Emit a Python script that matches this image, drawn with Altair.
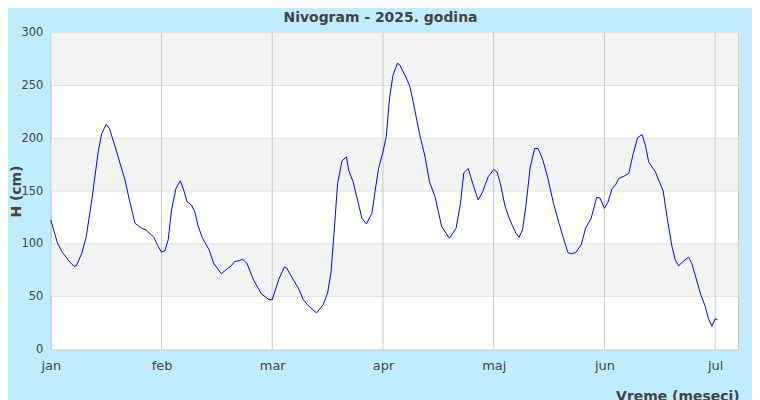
import altair as alt
import pandas as pd

months = ["jan", "feb", "mar", "apr", "maj", "jun", "jul"]
month_pos = [0, 1, 2, 3, 4, 5, 6]
y_ticks = [0, 50, 100, 150, 200, 250, 300]
band_lo = [50, 150, 250]
band_hi = [100, 200, 300]

# time in months since 1 Jan (each month equally wide), snow height in cm
t = [0.00, 0.06, 0.10, 0.16, 0.21, 0.23, 0.28, 0.32, 0.37, 0.43, 0.46, 0.50, 0.53,
     0.59, 0.67, 0.71, 0.76, 0.82, 0.86, 0.93, 0.97, 1.00, 1.03, 1.06, 1.09, 1.13,
     1.17, 1.20, 1.23, 1.27, 1.30, 1.33, 1.37, 1.43, 1.47, 1.54, 1.59, 1.63, 1.66,
     1.70, 1.73, 1.77, 1.83, 1.90, 1.97, 2.00, 2.06, 2.11, 2.13, 2.19, 2.24, 2.28,
     2.33, 2.40, 2.46, 2.50, 2.53, 2.56, 2.59, 2.63, 2.67, 2.69, 2.73, 2.77, 2.81,
     2.85, 2.90, 2.93, 2.96, 3.00, 3.03, 3.06, 3.09, 3.13, 3.15, 3.20, 3.24, 3.27,
     3.30, 3.33, 3.38, 3.42, 3.47, 3.53, 3.57, 3.60, 3.66, 3.70, 3.73, 3.77, 3.81,
     3.86, 3.90, 3.95, 4.00, 4.03, 4.06, 4.10, 4.14, 4.17, 4.20, 4.23, 4.26, 4.29,
     4.33, 4.37, 4.40, 4.44, 4.49, 4.54, 4.59, 4.63, 4.67, 4.70, 4.74, 4.79, 4.83,
     4.88, 4.93, 4.96, 5.00, 5.03, 5.07, 5.10, 5.13, 5.18, 5.22, 5.26, 5.30, 5.34,
     5.37, 5.40, 5.43, 5.46, 5.49, 5.53, 5.57, 5.61, 5.64, 5.67, 5.71, 5.76, 5.79,
     5.84, 5.87, 5.91, 5.94, 5.97, 6.00, 6.02]
h = [122.6, 100.6, 92.7, 84.3, 78.6, 79.2, 91.2, 106.9, 141.5, 188.7, 204.4, 213.2, 209.1,
     188.7, 160.4, 141.5, 119.5, 114.8, 113.2, 106.3, 97.5, 92.1, 93.4, 103.8, 132.0, 152.5,
     159.7, 150.9, 139.9, 136.8, 130.5, 117.0, 105.3, 94.3, 81.8, 71.7, 76.1, 79.2, 83.3,
     84.0, 85.5, 81.8, 66.0, 52.8, 47.2, 47.2, 66.7, 78.0, 77.0, 66.0, 57.2, 47.2,
     40.9, 34.6, 42.5, 53.5, 72.3, 113.2, 157.2, 178.6, 182.4, 169.8, 158.8, 141.5, 124.2,
     118.9, 128.9, 150.9, 171.4, 187.0, 202.0, 239.0, 259.4, 271.0, 269.8, 259.4, 250.0, 235.8,
     220.1, 204.4, 182.4, 158.8, 144.7, 116.4, 110.1, 105.3, 114.8, 138.4, 167.3, 171.4, 157.2,
     141.5, 149.4, 163.5, 170.4, 168.2, 157.2, 136.8, 124.2, 117.0, 110.1, 106.3, 113.2, 135.2,
     172.9, 190.3, 190.3, 180.8, 162.0, 138.4, 119.5, 105.3, 91.8, 90.6, 91.8, 99.1, 114.8,
     124.2, 144.0, 143.4, 133.7, 139.0, 152.5, 155.7, 162.0, 164.2, 166.7, 185.5, 200.6, 203.5,
     193.4, 177.6, 172.9, 168.2, 160.4, 150.3, 122.6, 97.5, 84.9, 79.2, 83.3, 87.4, 81.1,
     62.9, 51.9, 40.9, 29.0, 22.0, 29.0, 28.3]

df = pd.DataFrame({"t": t, "h": h})
bands_df = pd.DataFrame({"lo": band_lo, "hi": band_hi})
vgrid_df = pd.DataFrame({"m": month_pos})
hgrid_df = pd.DataFrame({"v": y_ticks})

xscale = alt.Scale(domain=[0, 6.207], nice=False, zero=False)
yscale = alt.Scale(domain=[0, 300], nice=False)

label_expr = "[" + ",".join("'%s'" % m for m in months) + "][datum.value]"

x_axis = alt.Axis(values=month_pos, labelExpr=label_expr, grid=False, domain=False,
                  ticks=False, tickSize=0, labelPadding=10, labelFontSize=13,
                  labelFlush=False, labelOverlap=False,
                  labelColor="#444444", labelFont="DejaVu Sans",
                  title="Vreme (meseci)", titleFontSize=14, titleFontWeight="bold",
                  titleColor="#444444", titleFont="DejaVu Sans",
                  titleAnchor="end", titleAlign="right", titleBaseline="alphabetic",
                  titleX=691, titleY=51)
y_axis = alt.Axis(values=y_ticks, grid=False, domain=False, ticks=False, tickSize=0,
                  labelPadding=8, labelFontSize=11.5, labelColor="#444444",
                  labelFont="DejaVu Sans", labelFlush=False,
                  title="H (cm)", titleFontSize=14, titleFontWeight="bold",
                  titleColor="#444444", titleFont="DejaVu Sans", titleX=-27)

bands = alt.Chart(bands_df).mark_rect(color="#f3f3f3").encode(
    y=alt.Y("lo:Q", scale=yscale, axis=y_axis),
    y2="hi:Q",
)
hgrid = alt.Chart(hgrid_df).mark_rule(color="#e0e0e0", strokeWidth=1).encode(
    y=alt.Y("v:Q", scale=yscale),
)
vgrid = alt.Chart(vgrid_df).mark_rule(color="#c8c8c8", strokeWidth=1).encode(
    x=alt.X("m:Q", scale=xscale, axis=x_axis),
)
line = alt.Chart(df).mark_line(color="#0000ff", strokeWidth=1).encode(
    x=alt.X("t:Q", scale=xscale),
    y=alt.Y("h:Q", scale=yscale),
)

chart = alt.layer(bands, hgrid, vgrid, line).properties(
    width=690,
    height=318,
    autosize=alt.AutoSizeParams(type="none"),
    padding={"left": 43, "top": 24, "right": 14, "bottom": 60},
    background="#bfedfe",
    title=alt.TitleParams("Nivogram - 2025. godina", fontSize=14, fontWeight="bold",
                          color="#444444", font="DejaVu Sans", anchor="middle",
                          baseline="top", offset=6, dx=-14, dy=4),
).configure_view(stroke="#cccccc", fill="white")

chart.save("out.html", embed_options={"renderer": "svg", "actions": False})
